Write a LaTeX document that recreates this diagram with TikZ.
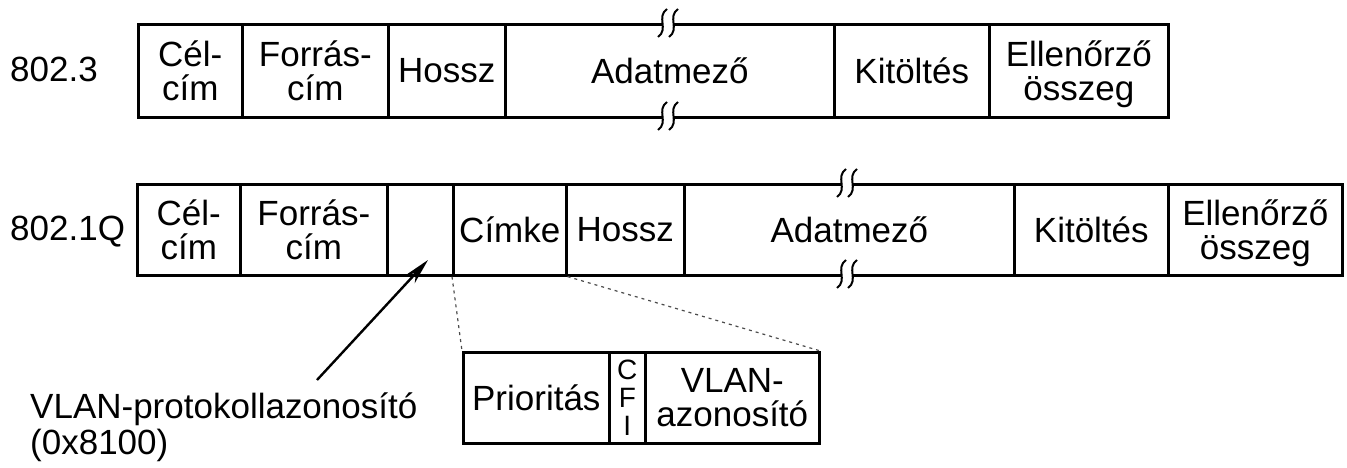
\documentclass[tikz,border=0pt]{standalone}
\usepackage{fontspec}
\setmainfont{Liberation Sans}
\usetikzlibrary{arrows.meta}
\newcommand{\bigf}{\fontsize{35}{34}\selectfont}
\newcommand{\cfif}{\fontsize{28}{28}\selectfont}
\begin{document}
\begin{tikzpicture}[x=1pt,y=-1pt,
  field/.style={draw, line width=2.6pt, inner sep=0pt, anchor=north west,
    align=center, font=\bigf, text depth=0pt},
  rowlabel/.style={anchor=base west, inner sep=0pt, font=\bigf},
  zoomline/.style={line width=1.2pt, black!70, dash pattern=on 3pt off 4pt},
  brkline/.style={line width=2pt},
  pointer/.style={line width=2.4pt, -{Stealth[length=26pt, width=12pt]}}]
\useasboundingbox (0,0) rectangle (1347,468);

% row 1: 802.3
\node[rowlabel] (l1) at (10,82) {802.3};
\node[field, minimum width=104pt, minimum height=93pt] (r1a) at (137,23) {Cél-\\cím};
\node[field, minimum width=146pt, minimum height=93pt] (r1b) at (241,23) {Forrás-\\cím};
\node[field, minimum width=117pt, minimum height=93pt] (r1c) at (387,23) {Hossz};
\node[field, minimum width=329pt, minimum height=93pt] (r1d) at (504,23) {Adatmező};
\node[field, minimum width=155pt, minimum height=93pt] (r1e) at (833,23) {Kitöltés};
\node[field, minimum width=179pt, minimum height=93pt] (r1f) at (988,23) {Ellenőrző\\összeg};

% row 2: 802.1Q
\node[rowlabel] (l2) at (10,240) {802.1Q};
\node[field, minimum width=103pt, minimum height=91pt] (r2a) at (136,183) {Cél-\\cím};
\node[field, minimum width=147pt, minimum height=91pt] (r2b) at (239,183) {Forrás-\\cím};
\node[field, minimum width=66pt, minimum height=91pt] (r2c) at (386,183) {};
\node[field, minimum width=113pt, minimum height=91pt] (r2d) at (452,183) {Címke};
\node[field, minimum width=118pt, minimum height=91pt] (r2e) at (565,183) {Hossz};
\node[field, minimum width=330pt, minimum height=91pt] (r2f) at (683,183) {Adatmező};
\node[field, minimum width=154pt, minimum height=91pt] (r2g) at (1013,183) {Kitöltés};
\node[field, minimum width=174pt, minimum height=91pt] (r2h) at (1167,183) {Ellenőrző\\összeg};

% break marks
\foreach \cx/\cy in {668/23, 668/116, 847/183, 847/274} {
  \fill[white] (\cx-6,\cy-3) rectangle (\cx+6,\cy+3);
  \draw[brkline] (\cx-1,\cy-14) .. controls (\cx-12,\cy-6) and (\cx+1,\cy+6) .. (\cx-10,\cy+14);
  \draw[brkline] (\cx+10,\cy-14) .. controls (\cx-1,\cy-6) and (\cx+12,\cy+6) .. (\cx+1,\cy+14);
}

% tag detail
\node[field, minimum width=146pt, minimum height=91pt] (t1) at (462,351) {Prioritás};
\node[field, minimum width=36pt, minimum height=91pt, font=\cfif] (t2) at (608,351) {C\\F\\I};
\node[field, minimum width=174pt, minimum height=91pt] (t3) at (644,351) {VLAN-\\azonosító};

\draw[zoomline] (r2d.south west) -- (t1.north west);
\draw[zoomline] (r2d.south east) -- (t3.north east);

% protocol id label and pointer
\node[anchor=north west, inner sep=0pt, align=left, font=\fontsize{35}{36}\selectfont] (vlan) at (30,393)
  {VLAN-protokollazonosító\\(0x8100)};
\coordinate (ptail) at (317,380);
\coordinate (ptip) at (428,260);
\draw[pointer] (ptail) -- (ptip);
\end{tikzpicture}
\end{document}
